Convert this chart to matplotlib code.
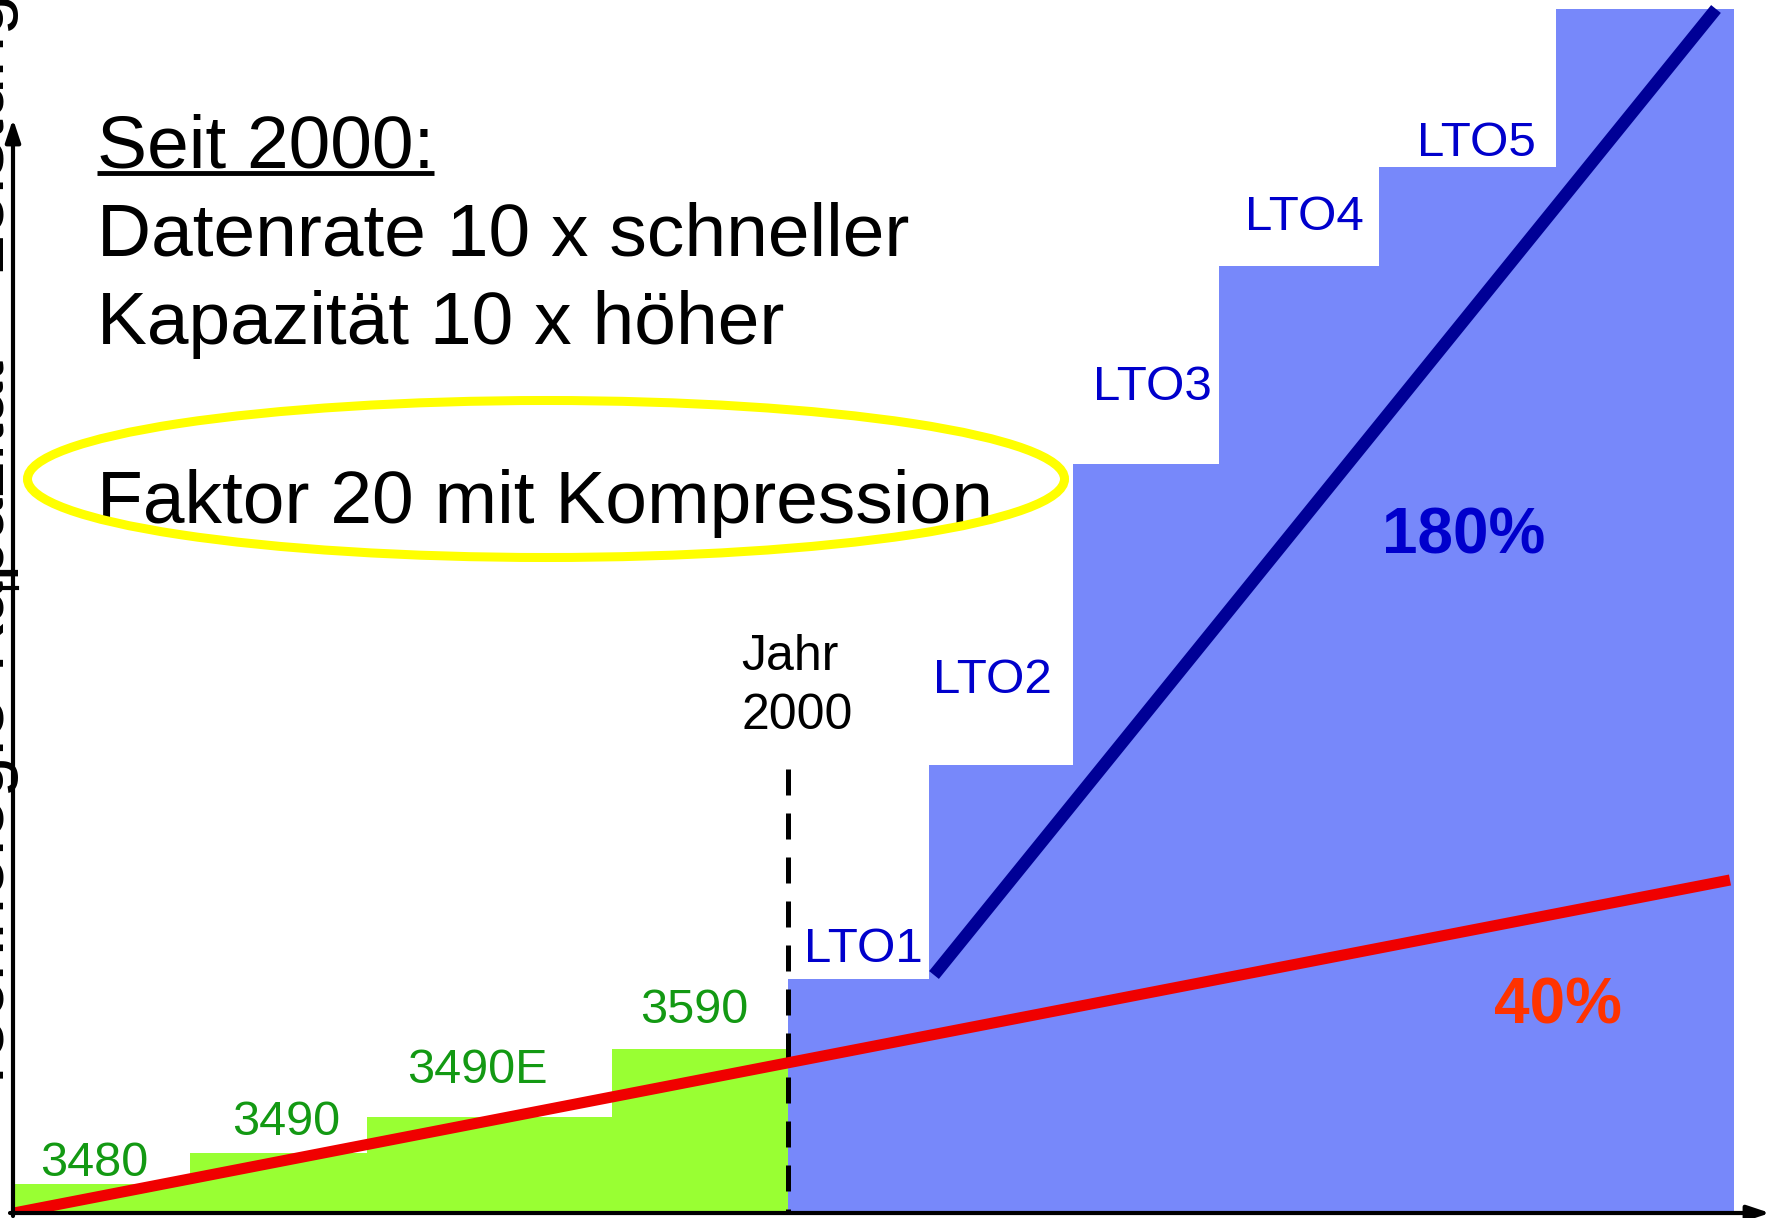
import matplotlib.pyplot as plt
from matplotlib.patches import Ellipse

plt.rcParams['font.family'] = ['Liberation Sans', 'DejaVu Sans']

# IBM generations before 2000: left/right edge on the time axis and relative capacity
ibm_names = ['3480', '3490', '3490E', '3590']
ibm_left = [0, 177, 354, 599]
ibm_right = [177, 354, 599, 775]
ibm_cap = [29, 60, 96, 164]

# LTO generations after 2000 (last step is the next, unnamed generation)
lto_names = ['LTO1', 'LTO2', 'LTO3', 'LTO4', 'LTO5', '']
lto_left = [775, 916, 1060, 1206, 1366, 1543]
lto_right = [916, 1060, 1206, 1366, 1543, 1721]
lto_cap = [234, 448, 749, 947, 1046, 1204]

year_2000 = 775
year_2000_top = 444

# growth trends
trend40_x = [1, 1717]
trend40_y = [0, 333]
trend180_x = [921, 1703]
trend180_y = [238, 1204]

# label offsets relative to the top-left corner of each step
ibm_dx = [27, 42, 40, 28]
ibm_dy = [8, 18, 34, 26]
lto_dx = [16, 4, 20, 26, 38]
lto_dy = [17, 72, 64, 36, 11]

W, H = 1773, 1218
fig = plt.figure(figsize=(W / 100, H / 100), dpi=100)
ax = fig.add_axes([13 / W, 5 / H, 1760 / W, 1213 / H])
ax.set_xlim(0, 1760)
ax.set_ylim(0, 1213)
ax.axis('off')

ax.bar(ibm_left, ibm_cap, width=[r - l for l, r in zip(ibm_left, ibm_right)],
       align='edge', color='#99FF33', linewidth=0, zorder=1)
ax.bar(lto_left, lto_cap, width=[r - l for l, r in zip(lto_left, lto_right)],
       align='edge', color='#7788FA', linewidth=0, zorder=1)

# dashed marker for the year 2000, dash pattern starting at the top
ax.plot([year_2000, year_2000], [year_2000_top, 0], color='black', lw=3.6,
        dashes=(5.2, 3.6), zorder=2)
ax.plot(trend40_x, trend40_y, color='#F00000', lw=8, solid_capstyle='butt', zorder=3)
ax.plot(trend180_x, trend180_y, color='#000096', lw=9, solid_capstyle='butt', zorder=3)

for name, l, c, dx, dy in zip(ibm_names, ibm_left, ibm_cap, ibm_dx, ibm_dy):
    ax.text(l + dx, c + dy, name, color='#139913', fontsize=35, va='baseline')
for name, l, c, dx, dy in zip(lto_names, lto_left, lto_cap, lto_dx, lto_dy):
    ax.text(l + dx, c + dy, name, color='#0000CC', fontsize=35.5, va='baseline')

ax.text(728, 543, 'Jahr', fontsize=36, va='baseline')
ax.text(728, 484, '2000', fontsize=36, va='baseline')

ax.text(1369, 659, '180%', color='#0000CC', fontsize=46, fontweight='bold', va='baseline')
ax.text(1481, 190, '40%', color='#FF3300', fontsize=46, fontweight='bold', va='baseline')

# summary text block
seit = ax.text(84, 1046, 'Seit 2000:', fontsize=54, va='baseline')
ax.text(84, 957, 'Datenrate 10 x schneller', fontsize=54, va='baseline')
ax.text(84, 869, 'Kapazität 10 x höher', fontsize=54, va='baseline')
ax.text(84, 690, 'Faktor 20 mit Kompression', fontsize=54, va='baseline', zorder=4)
ax.add_patch(Ellipse((533, 734), 1037, 157, fill=False, edgecolor='#FFFF00',
                     lw=6.5, zorder=5))

fig.canvas.draw()
bb = seit.get_window_extent().transformed(ax.transData.inverted())
ax.plot([bb.x0, bb.x1], [1040, 1040], color='black', lw=3.5, solid_capstyle='butt')

# axes with arrows
arrow = dict(arrowstyle='-|>,head_length=0.45,head_width=0.15', color='black',
             lw=3, mutation_scale=30, shrinkA=0, shrinkB=0)
ax.annotate('', xy=(0, 1094), xytext=(0, -3), arrowprops=arrow, annotation_clip=False)
ax.annotate('', xy=(1757, 0), xytext=(-3, 0), arrowprops=arrow, annotation_clip=False)
ax.plot([-13, 4], [625, 625], color='black', lw=3, clip_on=False)

fig.text(4 / W, 1 - 1097 / H, 'Technologie-Kapazität – Leistung', fontsize=54,
         rotation=90, rotation_mode='anchor', ha='left', va='baseline')

fig.savefig('out.png', dpi=100, facecolor='white')
